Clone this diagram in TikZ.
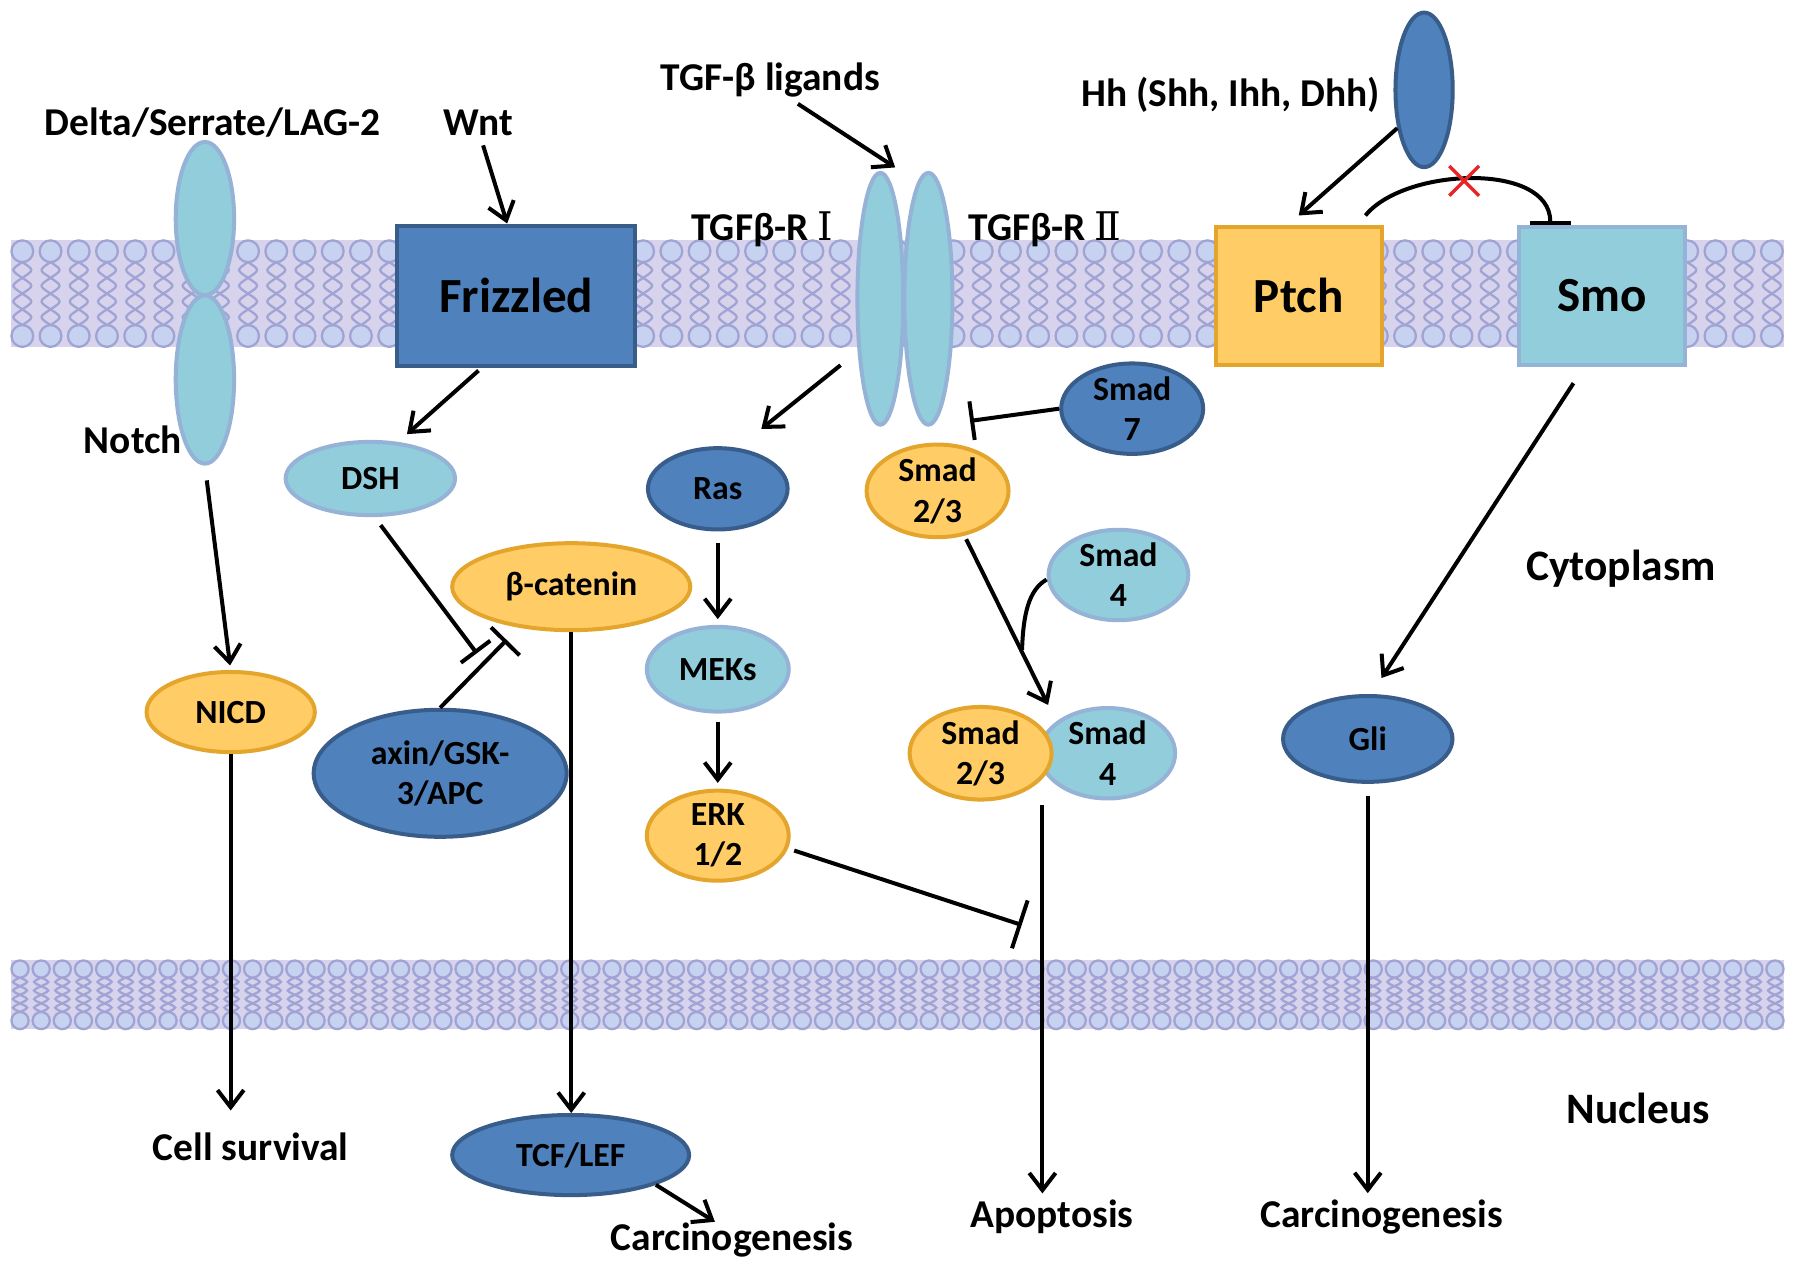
\documentclass[tikz,border=0pt]{standalone}
\usepackage{fontspec}
\setmainfont{Carlito}
\newfontfamily\romanfont{DejaVu Serif}
\usetikzlibrary{shapes.geometric,arrows.meta}
\definecolor{nodeblue}{RGB}{79,129,189}
\definecolor{nodeblueline}{RGB}{56,93,138}
\definecolor{nodecyan}{RGB}{146,205,220}
\definecolor{nodecyanline}{RGB}{149,179,215}
\definecolor{nodegold}{RGB}{255,204,102}
\definecolor{nodegoldline}{RGB}{228,165,45}
\definecolor{lipidbg}{RGB}{216,211,237}
\definecolor{lipidhd}{RGB}{198,210,239}
\definecolor{lipidln}{RGB}{160,164,213}
\definecolor{crossred}{RGB}{232,36,36}

\newcommand{\lipidband}[5]{%
  \fill[lipidbg] (10,#1) rectangle (1558,#2);
  \foreach \i in {0,...,#5}{%
    \pgfmathsetmacro{\lipX}{10+#3+\i*#4}%
    \pgfmathsetmacro{\lipA}{#1+2*#3}%
    \pgfmathsetmacro{\lipQ}{(#2-#1-4*#3)/4}%
    \foreach \k in {0,1,2,3}{%
      \pgfmathsetmacro{\lipY}{\lipA+\k*\lipQ}%
      \draw[lipidln,line width=0.2mm] (\lipX,\lipY) .. controls +(-1.1*#3,0.5*\lipQ) .. (\lipX,\lipY+\lipQ) .. controls +(1.1*#3,-0.5*\lipQ) .. (\lipX,\lipY);
    }%
    \draw[draw=lipidln,fill=lipidhd,line width=0.2mm] (\lipX,#1+#3) circle[radius=#3];
    \draw[draw=lipidln,fill=lipidhd,line width=0.2mm] (\lipX,#2-#3) circle[radius=#3];
  }%
}

\begin{document}
\begin{tikzpicture}[x=0.1mm,y=-0.1mm,
  mol/.style={ellipse,inner sep=0pt,line width=0.35mm,align=center,font=\bfseries\fontsize{8.4}{10}\selectfont},
  bluenode/.style={mol,fill=nodeblue,draw=nodeblueline},
  cyannode/.style={mol,fill=nodecyan,draw=nodecyanline},
  goldnode/.style={mol,fill=nodegold,draw=nodegoldline},
  membox/.style={rectangle,inner sep=0pt,line width=0.35mm,font=\bfseries\fontsize{12.2}{14}\selectfont},
  lbl/.style={inner sep=0.5mm,font=\bfseries\fontsize{9.8}{12}\selectfont},
  region/.style={inner sep=0.5mm,font=\bfseries\fontsize{10.8}{13}\selectfont},
  act/.style={-{Straight Barb[length=1.5mm,width=2.3mm]},line width=0.35mm},
  inh/.style={-{Bar[width=#1]},line width=0.35mm},
  inh/.default=3.4mm]
\useasboundingbox (0,0) rectangle (1568,1111);
\fill[white] (0,0) rectangle (1568,1111);

\lipidband{210}{303}{9.5}{24.65}{62}
\lipidband{839}{899}{7.5}{18.47}{83}

\node[cyannode,minimum width=5.1mm,minimum height=13.4mm] (notchtop) at (179,191) {};
\node[cyannode,minimum width=5.1mm,minimum height=14.7mm] (notchbot) at (179,331.5) {};
\node[membox,fill=nodeblue,draw=nodeblueline,minimum width=20.8mm,minimum height=12.3mm] (frizzled) at (451,258.5) {Frizzled};
\node[cyannode,minimum width=4mm,minimum height=22mm] (tgfrI) at (769,261) {};
\node[cyannode,minimum width=4.2mm,minimum height=22mm] (tgfrII) at (811,261) {};
\node[bluenode,minimum width=5mm,minimum height=13.5mm] (hh) at (1244,78.5) {};
\node[membox,fill=nodegold,draw=nodegoldline,minimum width=14.5mm,minimum height=12.1mm] (ptch) at (1134.5,258.5) {Ptch};
\node[membox,fill=nodecyan,draw=nodecyanline,minimum width=14.5mm,minimum height=12.1mm] (smo) at (1399.5,258.5) {Smo};

\node[lbl] (delta) at (186,107) {Delta/Serrate/LAG-2};
\node[lbl] (wnt) at (418,107) {Wnt};
\node[lbl] (ligands) at (673,70) {TGF-β ligands};
\node[lbl] (rI) at (666,200) {TGFβ-R {\romanfont\mdseries Ⅰ}};
\node[lbl] (rII) at (913,200) {TGFβ-R {\romanfont\mdseries Ⅱ}};
\node[lbl] (hhlbl) at (1075,83) {Hh (Shh, Ihh, Dhh)};
\node[lbl] (notch) at (116,384) {Notch};
\node[region] (cyto) at (1416,497) {Cytoplasm};
\node[region] (nucleus) at (1431,968) {Nucleus};
\node[lbl] (survival) at (219,1002) {Cell survival};
\node[lbl] (carctcf) at (639.5,1083) {Carcinogenesis};
\node[lbl] (apop) at (919,1063) {Apoptosis};
\node[lbl] (carcgli) at (1207,1063) {Carcinogenesis};

\node[cyannode,minimum width=14.8mm,minimum height=6.4mm] (dsh) at (323.5,418) {DSH};
\node[goldnode,minimum width=20.8mm,minimum height=7.6mm] (bcat) at (499,512.5) {β-catenin};
\node[bluenode,minimum width=22.1mm,minimum height=11.1mm] (axin) at (384.5,675.5) {axin/GSK-\\3/APC};
\node[goldnode,minimum width=14.7mm,minimum height=7mm] (nicd) at (201.5,622) {NICD};
\node[bluenode,minimum width=20.7mm,minimum height=7mm] (tcf) at (498.5,1009) {TCF/LEF};
\node[bluenode,minimum width=12.2mm,minimum height=7.1mm] (ras) at (627,427) {Ras};
\node[cyannode,minimum width=12.4mm,minimum height=7.4mm] (meks) at (627,584.6) {MEKs};
\node[goldnode,minimum width=12.4mm,minimum height=7.4mm] (erk) at (627,730) {ERK\\1/2};
\node[bluenode,minimum width=12.4mm,minimum height=7.2mm] (smad7) at (989,357) {Smad\\7};
\node[goldnode,minimum width=12.4mm,minimum height=7.4mm] (smad23) at (819,428.8) {Smad\\2/3};
\node[cyannode,minimum width=12.2mm,minimum height=7mm] (smad4) at (977,502.3) {Smad\\4};
\node[cyannode,minimum width=11.8mm,minimum height=7.3mm] (csmad4) at (967.5,658) {Smad\\4};
\node[goldnode,minimum width=12.4mm,minimum height=7.6mm] (csmad23) at (856.6,658) {Smad\\2/3};
\node[bluenode,minimum width=14.8mm,minimum height=7.5mm] (gli) at (1194.8,645.5) {Gli};

\coordinate (dshhit) at (416.5,570.7);
\coordinate (axinhit) at (442.6,559);
\coordinate (smad7hit) at (847.4,367.7);
\coordinate (erkhit) at (892.5,808);
\coordinate (smadjoin) at (892.8,567.6);
\coordinate (cplx) at ([xshift=5.4mm,yshift=-0.3mm]csmad23.south);
\coordinate (block) at (1279,158);

\draw[act] ([xshift=0.4mm,yshift=-0.3mm]wnt.south) -- ([xshift=-0.8mm]frizzled.north);
\draw[act] ([xshift=2.4mm]ligands.south) -- ([xshift=1.3mm,yshift=0.3mm]tgfrI.north);
\draw[act] (hh.235) -- ([yshift=0.8mm]ptch.north);
\draw[inh=3.6mm] ([xshift=-1.6mm,yshift=0.8mm]ptch.north east) .. controls +(34,-42) and +(0,-55) .. ([xshift=2.9mm]smo.north west);
\draw[crossred,line width=0.3mm] ([shift={(-13,-13)}]block) -- ([shift={(13,13)}]block) ([shift={(13,-13)}]block) -- ([shift={(-13,13)}]block);
\draw[act] ([xshift=-2.5mm,yshift=-1.4mm]smo.south) -- ([xshift=1.2mm,yshift=1.4mm]gli.north);
\draw[act,shorten <=1.1mm] (gli.south) -- (gli.south |- carcgli.north);

\draw[act] ([xshift=-3.3mm,yshift=-0.2mm]frizzled.south) -- ([xshift=3.2mm,yshift=0.5mm]dsh.north);
\draw[inh=3.2mm] ([xshift=0.9mm,yshift=-0.7mm]dsh.south) -- (dshhit);
\draw[inh=3.5mm] (axin.north) -- (axinhit);
\draw[act] (bcat.south) -- (bcat.south |- tcf.north);
\draw[act] (tcf.south east) -- ([xshift=-1.5mm,yshift=-0.5mm]carctcf.north);

\draw[act,shorten <=1.3mm,shorten >=0.4mm] (notchbot.south) -- (nicd.north);
\draw[act,shorten >=1.4mm] (nicd.south) -- (nicd.south |- survival.north);

\draw[act] ([xshift=-1.3mm,yshift=-5.8mm]tgfrI.west) -- ([xshift=3.8mm,yshift=1.5mm]ras.north);
\draw[act,shorten <=1mm,shorten >=0.5mm] (ras.south) -- (meks.north);
\draw[act,shorten <=0.7mm,shorten >=0.5mm] (meks.south) -- (erk.north);
\draw[inh=4.4mm] ([xshift=0.3mm,yshift=-1.3mm]erk.east) -- (erkhit);

\draw[inh=3.4mm] (smad7.west) -- (smad7hit);
\draw[act] ([xshift=2.5mm]smad23.south) -- ([xshift=5.9mm]csmad23.north);
\draw[line width=0.35mm] ([yshift=-0.4mm]smad4.west) .. controls +(-16,9) and +(1,-30) .. (smadjoin);
\draw[act] (cplx) -- (cplx |- apop.north);
\end{tikzpicture}
\end{document}
